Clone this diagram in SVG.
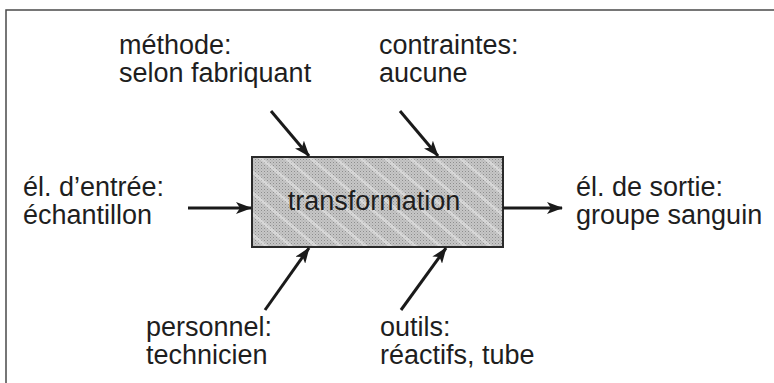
<svg xmlns="http://www.w3.org/2000/svg" width="774" height="383" viewBox="0 0 774 383">
<style>
  .t { font-family: "Liberation Sans", Arial, sans-serif; font-size: 27px; fill: #1e1e1e; }
  .c { stroke: #1a1a1a; stroke-width: 3; fill: none; marker-end: url(#ah); }
</style>
<defs>
  <marker id="ah" viewBox="0 0 16 12" refX="15" refY="6" markerWidth="16" markerHeight="12" markerUnits="userSpaceOnUse" orient="auto">
    <path d="M0,0 L16,6 L0,12 L4,6 Z" fill="#1a1a1a"/>
  </marker>
  <pattern id="dots" width="3" height="3" patternUnits="userSpaceOnUse">
    <rect width="3" height="3" fill="#c6c6c6"/>
    <rect x="0" y="0" width="1" height="1" fill="#8e8e8e"/>
    <rect x="1.5" y="1.5" width="1" height="1" fill="#a6a6a6"/>
  </pattern>
  <pattern id="streaks" width="16" height="16" patternUnits="userSpaceOnUse" patternTransform="rotate(40)">
    <rect x="0" y="0" width="16" height="3" fill="#ffffff" opacity="0.35"/>
  </pattern>
</defs>
<rect width="774" height="383" fill="#ffffff"/>
<path d="M6,383 V10 H774" fill="none" stroke="#4a4a4a" stroke-width="1.5"/>

<g id="box">
  <rect x="252" y="157" width="251" height="90" fill="url(#dots)"/>
  <rect x="252" y="157" width="251" height="90" fill="url(#streaks)"/>
  <rect x="252" y="157" width="251" height="90" fill="none" stroke="#2a2a2a" stroke-width="2"/>
  <text class="t" x="374" y="210" text-anchor="middle">transformation</text>
</g>

<g id="methode">
  <text class="t" x="119" y="54">méthode:</text>
  <text class="t" x="119" y="82">selon fabriquant</text>
</g>
<g id="contraintes">
  <text class="t" x="379" y="54">contraintes:</text>
  <text class="t" x="379" y="82">aucune</text>
</g>
<g id="entree">
  <text class="t" x="23" y="196">él. d’entrée:</text>
  <text class="t" x="23" y="224">échantillon</text>
</g>
<g id="sortie">
  <text class="t" x="576" y="196">él. de sortie:</text>
  <text class="t" x="576" y="224">groupe sanguin</text>
</g>
<g id="personnel">
  <text class="t" x="146" y="336">personnel:</text>
  <text class="t" x="146" y="364">technicien</text>
</g>
<g id="outils">
  <text class="t" x="380" y="336">outils:</text>
  <text class="t" x="380" y="364">réactifs, tube</text>
</g>

<g id="connectors">
  <line class="c" x1="271" y1="111" x2="309" y2="156"/>
  <line class="c" x1="400" y1="111" x2="438" y2="156"/>
  <line class="c" x1="188" y1="208" x2="251" y2="208"/>
  <line class="c" x1="503" y1="208" x2="562" y2="208"/>
  <line class="c" x1="265" y1="310" x2="309" y2="248"/>
  <line class="c" x1="401" y1="310" x2="446" y2="248"/>
</g>
</svg>
